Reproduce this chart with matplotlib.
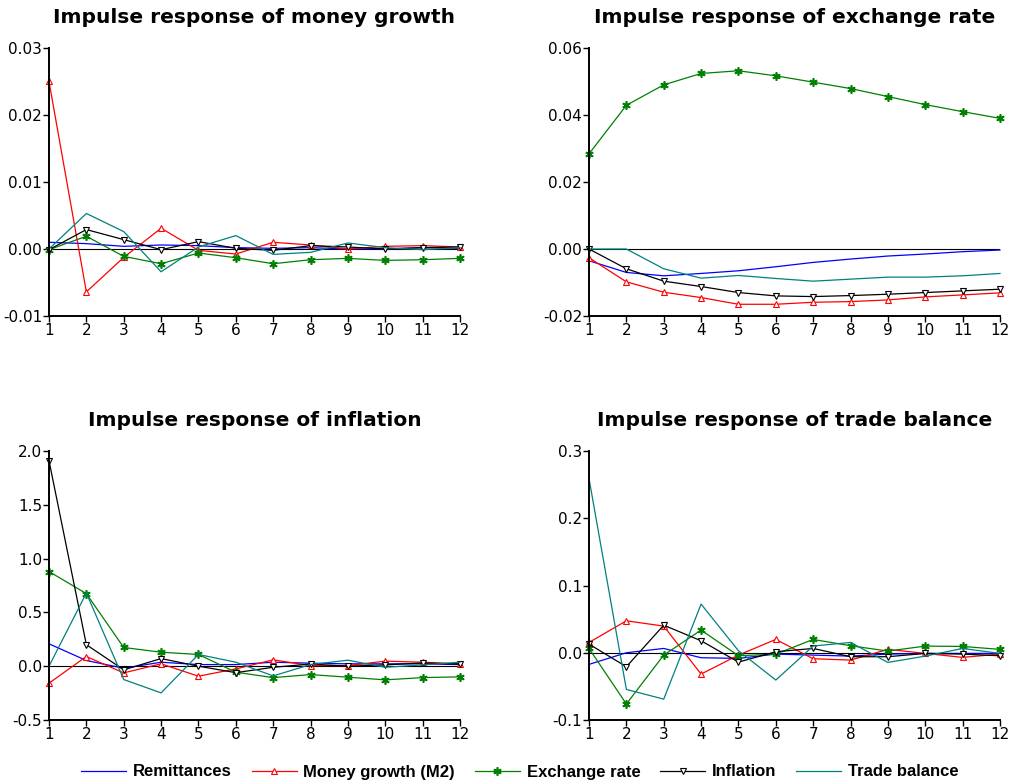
import matplotlib
matplotlib.use("Agg")
import matplotlib.pyplot as plt
import numpy as np

plt.rcParams['font.family'] = ['DejaVu Sans']

periods = np.arange(1, 13)
series_names = ['Remittances', 'Money growth (M2)', 'Exchange rate', 'Inflation', 'Trade balance']

# responses of money growth
money_rem = [0.001, 0.0008, 0.0004, 0.0006, 0.0005, 0.0002, 0.0001, 0.0002, 0.0, 0.0, 0.0002, 0.0001]
money_m2 = [0.025, -0.0064, -0.00125, 0.0031, -0.0002, -0.00075, 0.001, 0.0006, 0.0, 0.0004, 0.0005, 0.0003]
money_exr = [-0.0001, 0.0019, -0.0011, -0.0022, -0.0006, -0.0013, -0.0022, -0.0016, -0.0014, -0.0017, -0.0016, -0.0014]
money_inf = [-0.0001, 0.0029, 0.0014, -0.0001, 0.0011, 0.0001, -0.0002, 0.0005, 0.0003, 0.0, 0.0002, 0.0003]
money_tb = [0.0, 0.0053, 0.0026, -0.0034, 0.0003, 0.002, -0.0008, -0.0005, 0.0009, 0.0002, -0.0001, 0.0002]

# responses of exchange rate
exr_rem = [-0.0035, -0.007, -0.008, -0.0073, -0.0065, -0.0053, -0.004, -0.003, -0.0021, -0.0015, -0.0008, -0.0003]
exr_m2 = [-0.0026, -0.0098, -0.0129, -0.0145, -0.0165, -0.0165, -0.0159, -0.0157, -0.0152, -0.0143, -0.0137, -0.0131]
exr_exr = [0.0284, 0.0429, 0.049, 0.0524, 0.0532, 0.0517, 0.0498, 0.0479, 0.0455, 0.0431, 0.041, 0.039]
exr_inf = [0.0, -0.0059, -0.0096, -0.0112, -0.013, -0.014, -0.0142, -0.0139, -0.0135, -0.013, -0.0125, -0.012]
exr_tb = [0.0, 0.0, -0.0059, -0.0087, -0.0079, -0.0088, -0.0096, -0.009, -0.0084, -0.0084, -0.008, -0.0073]

# responses of inflation
inf_rem = [0.208, 0.053, -0.019, 0.037, 0.015, 0.015, 0.037, 0.028, 0.022, 0.022, 0.022, 0.015]
inf_m2 = [-0.158, 0.09, -0.062, 0.022, -0.093, -0.025, 0.059, 0.006, 0.006, 0.047, 0.037, 0.022]
inf_exr = [0.88, 0.674, 0.174, 0.13, 0.109, -0.056, -0.106, -0.078, -0.102, -0.127, -0.106, -0.099]
inf_inf = [1.91, 0.20, -0.034, 0.071, 0.0, -0.06, -0.01, 0.02, 0.0, 0.012, 0.03, 0.02]
inf_tb = [0.0, 0.68, -0.124, -0.248, 0.109, 0.037, -0.09, 0.015, 0.056, -0.01, 0.012, 0.037]

# responses of trade balance
tb_rem = [-0.0173, 0.0, 0.0064, -0.0074, -0.0084, -0.002, -0.0035, -0.005, -0.002, -0.001, -0.001, -0.001]
tb_m2 = [0.0153, 0.0475, 0.0396, -0.0317, -0.0035, 0.0198, -0.0089, -0.0109, 0.005, -0.001, -0.0069, -0.002]
tb_exr = [0.0064, -0.0762, -0.0035, 0.0337, -0.0045, -0.002, 0.0198, 0.0104, 0.0025, 0.0099, 0.0094, 0.005]
tb_inf = [0.0129, -0.0208, 0.041, 0.0178, -0.0139, 0.0015, 0.0064, -0.0059, -0.0059, -0.001, -0.002, -0.0045]
tb_tb = [0.259, -0.0545, -0.069, 0.0723, 0.003, -0.0406, 0.01, 0.0153, -0.0144, -0.005, 0.0064, -0.001]

panels = [
    ('Impulse response of money growth', [money_rem, money_m2, money_exr, money_inf, money_tb],
     (-0.01, 0.03), [-0.01, 0.0, 0.01, 0.02, 0.03], '%.2f'),
    ('Impulse response of exchange rate', [exr_rem, exr_m2, exr_exr, exr_inf, exr_tb],
     (-0.02, 0.06), [-0.02, 0.0, 0.02, 0.04, 0.06], '%.2f'),
    ('Impulse response of inflation', [inf_rem, inf_m2, inf_exr, inf_inf, inf_tb],
     (-0.5, 2.0), [-0.5, 0.0, 0.5, 1.0, 1.5, 2.0], '%.1f'),
    ('Impulse response of trade balance', [tb_rem, tb_m2, tb_exr, tb_inf, tb_tb],
     (-0.1, 0.3), [-0.1, 0.0, 0.1, 0.2, 0.3], '%.1f'),
]

styles = [
    dict(color='#0000ff', marker=None),
    dict(color='#ff0000', marker='^', markersize=4.5, markerfacecolor='white', markeredgewidth=0.8),
    dict(color='#008000', marker=(6, 2, 0), markersize=6, markeredgewidth=1.2),
    dict(color='black', marker='v', markersize=4.5, markerfacecolor='white', markeredgewidth=0.8),
    dict(color='#008080', marker=None),
]

fig = plt.figure(figsize=(10.12, 7.84), dpi=100)
W, H = 1012.0, 784.0
# axes boxes in pixels: left, top, right, bottom
boxes = [(49, 48, 460, 316), (589, 48, 1000, 316), (49, 451, 460, 720), (589, 451, 1000, 720)]

handles = []
for (title, data, ylim, yticks, fmt), (l, t, r, b) in zip(panels, boxes):
    ax = fig.add_axes([l / W, 1 - b / H, (r - l) / W, (b - t) / H])
    ax.axhline(0, color='black', lw=0.8, zorder=1)
    hs = []
    for vals, st, name in zip(data, styles, series_names):
        h, = ax.plot(periods, vals, lw=0.9, label=name, zorder=2, clip_on=False, **st)
        hs.append(h)
    handles = hs
    ax.set_xlim(1, 12)
    ax.set_ylim(*ylim)
    ax.set_xticks(periods)
    ax.set_yticks(yticks)
    ax.set_yticklabels([fmt % v for v in yticks])
    for s in ['top', 'right']:
        ax.spines[s].set_visible(False)
    for s in ['left', 'bottom']:
        ax.spines[s].set_linewidth(1.4)
    ax.tick_params(direction='out', length=4, width=1, labelsize=11, pad=1)
    ax.set_title(title, fontsize=14.5, fontweight='bold', pad=18)

fig.legend(handles, series_names, loc='center', bbox_to_anchor=(520 / W, 1 - 772 / H), ncol=5,
           frameon=False, handlelength=2.7, columnspacing=1.2, handletextpad=0.4,
           prop=dict(family='Liberation Sans', weight='bold', size=12))

fig.savefig('out.png', dpi=100)
